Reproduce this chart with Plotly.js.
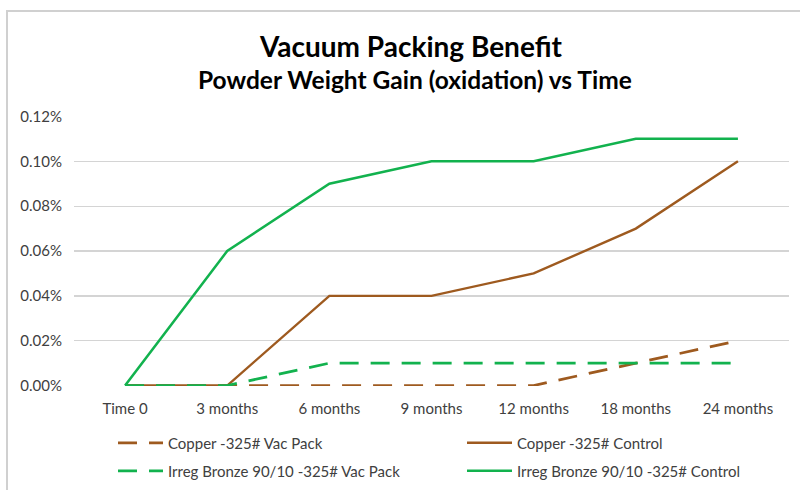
<!DOCTYPE html>
<html>
<head>
<meta charset="utf-8">
<script src="https://cdn.plot.ly/plotly-3.0.1.min.js"></script>
<style>
  html, body { margin: 0; padding: 0; background: #fff; }
  #wrap { position: relative; width: 800px; height: 490px; overflow: hidden; }
  #chart { position: absolute; left: 0; top: 0; width: 800px; height: 490px; }
  #frame { position: absolute; left: 6px; top: 10px; width: 820px; height: 520px;
           border: 2px solid #d0d0d0; box-sizing: border-box; pointer-events: none; }
</style>
</head>
<body>
<div id="wrap">
  <div id="chart"></div>
  <div id="frame"></div>
</div>
<script>
const categories = ["Time 0", "3 months", "6 months", "9 months", "12 months", "18 months", "24 months"];
const copperVacPack = [0, 0, 0, 0, 0, 0.01, 0.02];
const copperControl = [0, 0, 0.04, 0.04, 0.05, 0.07, 0.10];
const bronzeVacPack = [0, 0, 0.01, 0.01, 0.01, 0.01, 0.01];
const bronzeControl = [0, 0.06, 0.09, 0.10, 0.10, 0.11, 0.11];
const yTicks = [0, 0.02, 0.04, 0.06, 0.08, 0.10, 0.12];

const BROWN = "#9E5A1F";
const GREEN = "#12B24E";
const FONT = 'Lato, "Liberation Sans", Arial, sans-serif';
const DASH = "19px,12px";

const traces = [
  { name: "Copper -325# Vac Pack", y: copperVacPack, color: BROWN, dash: DASH, w: 2.75, legend: "legend" },
  { name: "Copper -325# Control", y: copperControl, color: BROWN, dash: "solid", w: 2.4, legend: "legend2" },
  { name: "Irreg Bronze 90/10 -325# Vac Pack", y: bronzeVacPack, color: GREEN, dash: DASH, w: 2.75, legend: "legend3" },
  { name: "Irreg Bronze 90/10 -325# Control", y: bronzeControl, color: GREEN, dash: "solid", w: 2.5, legend: "legend4" }
].map(t => ({
  type: "scatter", mode: "lines", x: categories, y: t.y, name: t.name,
  line: { color: t.color, width: t.w, dash: t.dash }, legend: t.legend
}));

function mkLegend(xpx, ypx) {
  return {
    orientation: "h", xref: "container", yref: "container",
    x: xpx / 800, y: 1 - ypx / 490, xanchor: "left", yanchor: "middle",
    itemwidth: 45,
    font: { family: FONT, size: 15, color: "#404040" },
    bgcolor: "rgba(0,0,0,0)"
  };
}

const layout = {
  width: 800, height: 490,
  margin: { l: 74, r: 11, t: 116, b: 104 },
  paper_bgcolor: "#fff", plot_bgcolor: "#fff",
  showlegend: true,
  legend: mkLegend(113, 443),
  legend2: mkLegend(462, 443),
  legend3: mkLegend(113, 471),
  legend4: mkLegend(462, 471),
  xaxis: {
    type: "category", range: [-0.5, 6.5], showgrid: false, zeroline: false,
    showline: false, ticks: "", ticklabelstandoff: 12,
    tickfont: { family: FONT, size: 15, color: "#404040" }
  },
  yaxis: {
    range: [-0.0002, 0.1202], tickvals: yTicks, ticktext: yTicks.map(v => v.toFixed(2) + "%"),
    showgrid: true, gridcolor: "#d4d4d4", gridwidth: 1.3,
    zeroline: false, showline: false, ticks: "", ticklabelstandoff: 11,
    tickfont: { family: FONT, size: 15, color: "#404040" }
  },
  annotations: [
    { text: "<b>Vacuum Packing Benefit</b>", xref: "paper", yref: "paper", showarrow: false,
      x: (410 - 74) / 715, y: 1 + (116 - 46) / 270, xanchor: "center", yanchor: "middle",
      font: { family: FONT, size: 28, color: "#000" } },
    { text: "<b>Powder Weight Gain (oxidation) vs Time</b>", xref: "paper", yref: "paper", showarrow: false,
      x: (415 - 74) / 715, y: 1 + (116 - 79) / 270, xanchor: "center", yanchor: "middle",
      font: { family: FONT, size: 24.5, color: "#000" } }
  ]
};

Plotly.newPlot("chart", traces, layout, { displayModeBar: false, staticPlot: true });
</script>
</body>
</html>
